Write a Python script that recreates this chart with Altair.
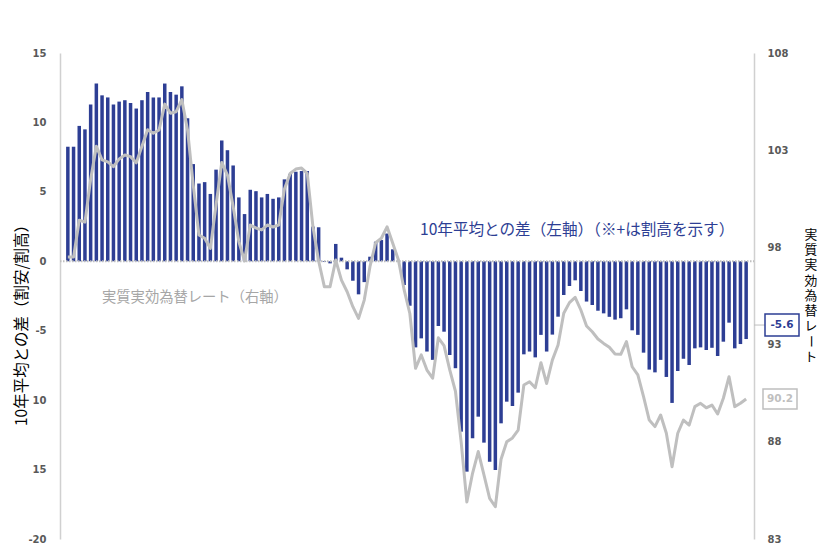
import altair as alt
import pandas as pd

# ---- data ----
diff_vals = [
    8.25, 8.25, 9.75, 9.5, 11.3, 12.8, 11.95, 11.8, 11.3, 11.5,
    11.6, 11.4, 11.0, 11.6, 12.2, 11.8, 11.8, 12.8, 12.2, 12.0,
    12.6, 10.3, 7.0, 5.6, 5.7, 4.85, 6.6, 8.7, 8.0, 6.9,
    4.6, 3.4, 5.15, 5.05, 4.6, 4.85, 4.5, 4.6, 5.9, 6.3,
    6.45, 6.5, 6.5, 2.5, 2.45, -0.05, -0.15, 1.25, 0.26, -0.58,
    -1.4, -2.38, -1.5, 0.33, 1.41, 1.53, 2.0, 0.86, 0.05, -1.71,
    -3.2, -6.2, -5.55, -6.5, -7.1, -4.66, -5.07, -6.75, -7.7, -12.27,
    -15.15, -12.75, -11.19, -13.06, -14.43, -15.03, -11.67, -10.11, -10.42, -9.46,
    -6.7, -6.5, -6.92, -5.3, -6.5, -5.28, -3.99, -2.43, -1.78, -1.37,
    -2.14, -2.9, -3.15, -3.56, -3.75, -4.0, -4.2, -4.1, -3.46, -4.97,
    -5.3, -6.58, -7.8, -8.0, -7.1, -8.33, -10.2, -7.9, -7.02, -7.47,
    -6.27, -6.2, -6.39, -6.23, -6.82, -5.79, -4.42, -6.27, -5.96, -5.6,
]
rate_vals = [
    97.5, 97.5, 99.4, 99.3, 101.5, 103.2, 102.5, 102.4, 102.15, 102.55,
    102.75, 102.67, 102.35, 103.2, 104.05, 103.87, 104.04, 105.37, 104.9, 104.98,
    105.6, 104.04, 101.2, 98.64, 98.47, 97.95, 100.18, 102.37, 101.72, 100.1,
    98.3, 97.3, 99.15, 99.0, 98.9, 99.15, 99.05, 99.15, 101.0, 101.8,
    102.03, 102.08, 101.81, 99.06, 97.3, 95.98, 95.98, 97.35, 96.32, 95.72,
    94.95, 94.35, 95.29, 97.01, 98.24, 98.47, 99.06, 98.21, 97.35, 95.81,
    94.6, 91.78, 92.47, 91.69, 91.27, 93.35, 92.95, 91.7, 90.6, 88.0,
    84.9, 86.38, 87.5, 86.3, 85.09, 84.66, 87.1, 88.0, 88.2, 88.6,
    90.92, 91.09, 90.78, 92.07, 91.0, 92.2, 92.98, 94.61, 95.16, 95.43,
    94.78, 93.96, 93.66, 93.29, 93.06, 92.86, 92.52, 92.5, 93.15, 91.86,
    91.44, 90.32, 89.12, 88.78, 89.38, 88.44, 86.72, 88.44, 89.12, 88.86,
    89.81, 89.98, 89.75, 89.89, 89.43, 90.24, 91.35, 89.81, 89.98, 90.2,
]
left_ticks = [-20, -15, -10, -5, 0, 5, 10, 15]
right_ticks = [83, 88, 93, 98, 103, 108]
left_title = "10年平均との差（割安/割高）"
right_title_upright = ["実", "質", "実", "効", "為", "替", "レ"]
right_title_dash = "ー"
right_title_last = "ト"
bar_note = "10年平均との差（左軸）（※+は割高を示す）"
line_note = "実質実効為替レート（右軸）"

# ---- layout ----
W, H = 694, 486
L_MIN, L_MAX = -20, 15
R_MIN, R_MAX = 83, 108
BLUE = "#2D3E94"
GRAY = "#BFBFBF"
JP = "Noto Sans CJK JP"


def pix_left(v):
    return H * (L_MAX - v) / (L_MAX - L_MIN)


def pix_right(v):
    return H * (R_MAX - v) / (R_MAX - R_MIN)


n = len(diff_vals)
df = pd.DataFrame({"idx": list(range(1, n + 1)), "diff": diff_vals, "rate": rate_vals})

xs = alt.Scale(domain=[0.5, n + 0.5], nice=False, zero=False)
ls = alt.Scale(domain=[L_MIN, L_MAX], nice=False, zero=False)
rs = alt.Scale(domain=[R_MIN, R_MAX], nice=False, zero=False)

left_axis = alt.Axis(
    values=left_ticks,
    labelExpr="datum.value == -10 ? '10' : datum.value == -15 ? '15' : '' + datum.value",
    orient="left",
    grid=False,
    ticks=False,
    domain=True,
    domainColor="#D0D0D0",
    domainWidth=1.5,
    labelFont="DejaVu Sans",
    labelFontWeight="bold",
    labelFontSize=10,
    labelColor="#595959",
    labelPadding=14,
    title=left_title,
    titleFont=JP,
    titleFontSize=15.5,
    titleFontWeight="normal",
    titleColor="#000000",
    titleX=-39,
    titleY=268,
    titleBaseline="middle",
    titleAlign="center",
    titleAngle=270,
)
right_axis = alt.Axis(
    values=right_ticks,
    labelExpr="'' + datum.value",
    orient="right",
    grid=False,
    ticks=False,
    domain=True,
    domainColor="#D0D0D0",
    domainWidth=1.5,
    labelFont="DejaVu Sans",
    labelFontWeight="bold",
    labelFontSize=10,
    labelColor="#595959",
    labelPadding=13,
    title="",
)

base = alt.Chart(df)

bars = base.mark_bar(size=3.5, color=BLUE).encode(
    x=alt.X("idx:Q", scale=xs, axis=None),
    y=alt.Y("diff:Q", scale=ls, axis=left_axis),
    y2=alt.datum(0),
)

zero_rule = alt.Chart(pd.DataFrame({"z": [0]})).mark_rule(
    color=GRAY, strokeWidth=2, strokeDash=[1.5, 1.5]
).encode(
    y=alt.Y("z:Q", scale=ls, axis=None),
    x=alt.value(0),
    x2=alt.value(W),
)

line = base.mark_line(color=GRAY, strokeWidth=3, strokeJoin="round").encode(
    x=alt.X("idx:Q", scale=xs, axis=None),
    y=alt.Y("rate:Q", scale=rs, axis=right_axis),
)

# ---- annotations ----
note_bar = alt.Chart(pd.DataFrame({"t": [bar_note]})).mark_text(
    align="left", baseline="middle", font=JP, fontSize=15.6, color=BLUE
).encode(x=alt.value(360), y=alt.value(177), text="t:N")

note_line = alt.Chart(pd.DataFrame({"t": [line_note]})).mark_text(
    align="left", baseline="middle", font=JP, fontSize=14.3, color="#A6A6A6"
).encode(x=alt.value(42), y=alt.value(245), text="t:N")

RT_X = 751
RT_Y0 = 182
RT_STEP = 15.2
RT_FS = 12.8
rt_upright = alt.Chart(pd.DataFrame({"k": [0]})).mark_text(
    align="center", baseline="middle", font=JP, fontSize=RT_FS, color="#000000",
    lineHeight=RT_STEP,
).encode(
    x=alt.value(RT_X),
    y=alt.value(RT_Y0),
    text=alt.value(right_title_upright),
)
rt_dash = alt.Chart(pd.DataFrame({"k": [0]})).mark_text(
    align="center", baseline="middle", font=JP, fontSize=RT_FS, color="#000000", angle=90,
).encode(
    x=alt.value(RT_X),
    y=alt.value(RT_Y0 + RT_STEP * len(right_title_upright)),
    text=alt.value(right_title_dash),
)
rt_last = alt.Chart(pd.DataFrame({"k": [0]})).mark_text(
    align="center", baseline="middle", font=JP, fontSize=RT_FS, color="#000000",
).encode(
    x=alt.value(RT_X),
    y=alt.value(RT_Y0 + RT_STEP * (len(right_title_upright) + 1)),
    text=alt.value(right_title_last),
)

last_diff = diff_vals[-1]
last_rate = rate_vals[-1]
cy1 = pix_left(last_diff) - 14
cy2 = pix_right(last_rate)

box_df = pd.DataFrame({
    "x1": [705, 703], "x2": [739, 737],
    "y1": [cy1 - 11, cy2 - 10], "y2": [cy1 + 11, cy2 + 10],
    "cx": [722, 720], "cy": [cy1, cy2],
    "t": [f"{last_diff:.1f}", f"{last_rate:.1f}"],
    "c": [BLUE, GRAY],
})
boxes = alt.Chart(box_df).mark_rect(fill="white", strokeWidth=1.5).encode(
    x=alt.X("x1:Q", scale=None), x2="x2:Q",
    y=alt.Y("y1:Q", scale=None), y2="y2:Q",
    stroke=alt.Stroke("c:N", scale=None),
)
box_text = alt.Chart(box_df).mark_text(
    align="center", baseline="middle", font="DejaVu Sans", fontWeight="bold", fontSize=10.5
).encode(
    x=alt.X("cx:Q", scale=None),
    y=alt.Y("cy:Q", scale=None),
    text="t:N",
    color=alt.Color("c:N", scale=None),
)
connector = alt.Chart(pd.DataFrame({"cy": [cy1]})).mark_rule(color=GRAY, strokeWidth=1).encode(
    x=alt.value(W), x2=alt.value(705), y=alt.Y("cy:Q", scale=None)
)

chart = alt.layer(
    bars, zero_rule, line, note_bar, note_line, rt_upright, rt_dash, rt_last,
    connector, boxes, box_text
).resolve_scale(y="independent").properties(
    width=W,
    height=H,
    padding={"left": 60, "top": 53, "right": 75, "bottom": 11},
    autosize=alt.AutoSizeParams(type="none"),
    background="white",
).configure_view(stroke=None)

chart.save("out.html", embed_options={"renderer": "svg", "actions": False})
